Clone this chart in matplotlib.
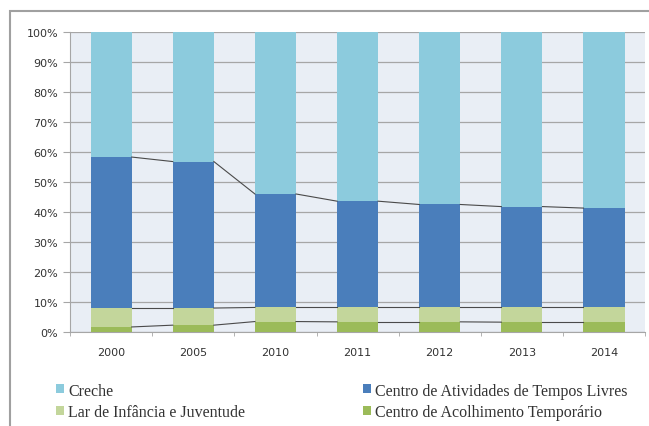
import numpy as np
import matplotlib.pyplot as plt
from matplotlib.patches import Rectangle

# data (percent shares)
years = ['2000', '2005', '2010', '2011', '2012', '2013', '2014']
acolhimento = [1.7, 2.3, 3.5, 3.4, 3.4, 3.3, 3.3]
lar = [6.3, 5.7, 4.7, 4.8, 4.8, 4.9, 4.9]
atl = [50.3, 48.8, 37.8, 35.4, 34.3, 33.6, 33.1]
creche = [41.7, 43.2, 54.0, 56.4, 57.5, 58.2, 58.7]

series = [
    ('Centro de Acolhimento Temporário', acolhimento, '#9bbb59'),
    ('Lar de Infância e Juventude', lar, '#c3d69b'),
    ('Centro de Atividades de Tempos Livres', atl, '#4a7ebb'),
    ('Creche', creche, '#8ccbdd'),
]

fig = plt.figure(figsize=(6.49, 4.27), dpi=100)
ax = fig.add_axes([0.108, 0.22, 0.886, 0.703])
ax.set_facecolor('#e9eef5')

x = np.arange(len(years))
w = 0.5
bottom = np.zeros(len(years))
handles = {}
for name, vals, col in series:
    vals = np.array(vals)
    b = ax.bar(x, vals, w, bottom=bottom, color=col, zorder=3)
    handles[name] = b
    bottom = bottom + vals
    # series lines between bars
    if name != 'Creche':
        for i in range(len(years) - 1):
            ax.plot([x[i] + w / 2, x[i + 1] - w / 2], [bottom[i], bottom[i + 1]],
                    color='#4a4a4a', lw=0.8, zorder=4)

ax.set_xlim(-0.5, len(years) - 0.5)
ax.set_ylim(0, 100)
ax.set_yticks(range(0, 101, 10))
ax.set_yticklabels([f'{v}%' for v in range(0, 101, 10)])
ax.yaxis.grid(True, color='#a6a6a6', lw=0.9, zorder=1)
ax.set_xticks(x)
ax.set_xticklabels(years)
ax.set_xticks(np.arange(-0.5, len(years), 1), minor=True)
ax.tick_params(axis='x', which='major', length=0, pad=11, labelsize=8, colors='#333333')
ax.tick_params(axis='x', which='minor', length=3, color='#a6a6a6')
ax.tick_params(axis='y', length=5, color='#a6a6a6', labelsize=8, colors='#333333')
for s in ['top', 'right']:
    ax.spines[s].set_visible(False)
ax.spines['left'].set_color('#a6a6a6')
ax.spines['bottom'].set_color('#a6a6a6')

order = ['Creche', 'Lar de Infância e Juventude',
         'Centro de Atividades de Tempos Livres', 'Centro de Acolhimento Temporário']
leg = fig.legend([handles[n] for n in order], order, ncol=2, loc='lower left',
                 bbox_to_anchor=(0.064, -0.02), frameon=False, handlelength=0.5,
                 handleheight=0.5, handletextpad=0.25, columnspacing=7.4,
                 labelspacing=0.35, prop={'family': 'Liberation Serif', 'size': 11.5})
for t in leg.get_texts():
    t.set_color('#333333')

# outer chart frame
fig.patches.append(Rectangle((0.016, -0.1), 1.1, 1.072, transform=fig.transFigure,
                             fill=False, edgecolor='#a0a0a0', lw=1.5))

fig.savefig('out.png', dpi=100)
